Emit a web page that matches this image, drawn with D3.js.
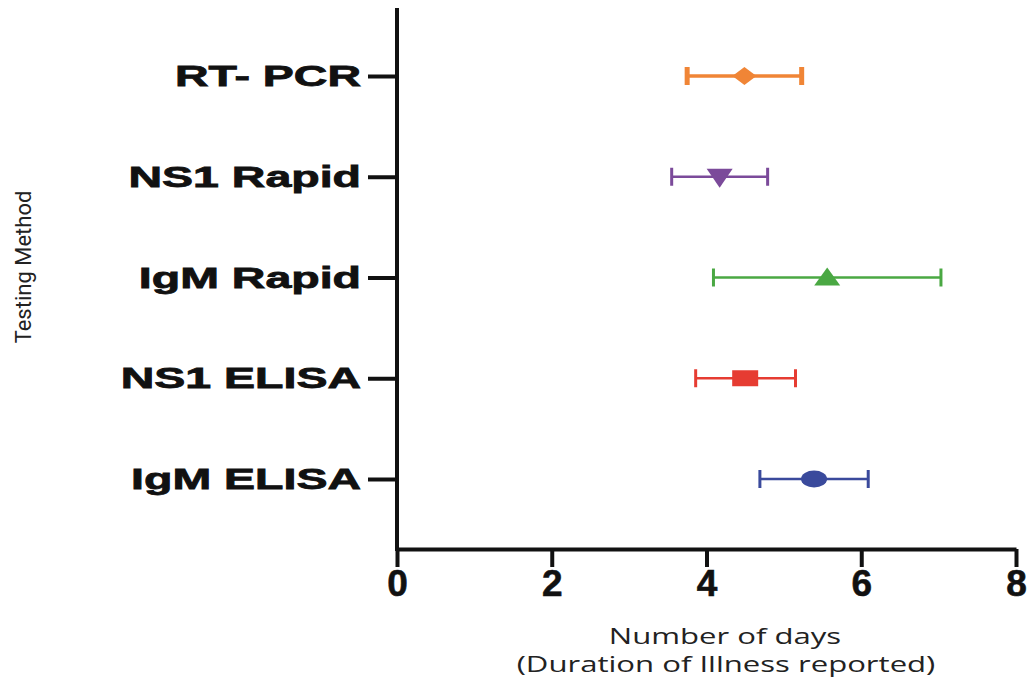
<!DOCTYPE html>
<html>
<head>
<meta charset="utf-8">
<script src="https://cdn.jsdelivr.net/npm/d3@7"></script>
<style>
  body { margin: 0; background: #fff; }
</style>
</head>
<body>
<div id="chart"></div>
<script>
// data
const methods = ['RT- PCR', 'NS1 Rapid', 'IgM Rapid', 'NS1 ELISA', 'IgM ELISA'];
const means = [4.49, 4.17, 5.56, 4.50, 5.39];
const lows = [3.75, 3.55, 4.09, 3.86, 4.69];
const highs = [5.23, 4.79, 7.03, 5.15, 6.09];
const colors = ['#f08536', '#7b4a9a', '#4aa843', '#e63c32', '#3a4a9c'];
const shapes = ['diamond', 'triDown', 'triUp', 'square', 'circle'];
const xTicks = [0, 2, 4, 6, 8];

const W = 1032, H = 681;
const svg = d3.select('#chart').append('svg')
  .attr('width', W).attr('height', H);

const x = d3.scaleLinear().domain([0, 8]).range([397, 1016]);
const y = d3.scalePoint().domain(methods).range([76, 479]);
const yBase = 549;

// stretch a text sideways, the reference is widened
function stretch(sel, k) {
  sel.each(function() {
    const len = this.getComputedTextLength();
    d3.select(this).attr('textLength', len * k).attr('lengthAdjust', 'spacingAndGlyphs');
  });
}

// axes
const xAxis = svg.append('g')
  .attr('transform', 'translate(0,' + yBase + ')')
  .call(d3.axisBottom(x).tickValues(xTicks).tickSize(18).tickPadding(3).tickSizeOuter(0));
xAxis.select('.domain').attr('stroke', '#111').attr('stroke-width', 4);
xAxis.selectAll('.tick line').attr('stroke', '#111').attr('stroke-width', 4);
xAxis.selectAll('.tick text')
  .attr('fill', '#111')
  .attr('stroke', '#111').attr('stroke-width', 0.6)
  .style('font-family', 'Liberation Sans, Arial, sans-serif')
  .style('font-weight', 'bold')
  .style('font-size', '37px');

const yAxis = svg.append('g')
  .attr('transform', 'translate(397,0)')
  .call(d3.axisLeft(y).tickSize(29).tickPadding(7).tickSizeOuter(0));
yAxis.select('.domain').attr('d', 'M0,8V' + (yBase + 2)).attr('stroke', '#111').attr('stroke-width', 4);
yAxis.selectAll('.tick line').attr('stroke', '#111').attr('stroke-width', 4);
yAxis.selectAll('.tick text')
  .attr('fill', '#111')
  .attr('stroke', '#111').attr('stroke-width', 0.8)
  .style('font-family', 'Liberation Sans, Arial, sans-serif')
  .style('font-weight', 'bold')
  .style('font-size', '30px')
  .call(stretch, 1.55);

// axis titles
svg.append('text')
  .attr('transform', 'translate(31,267) rotate(-90)')
  .attr('text-anchor', 'middle')
  .style('font-family', 'Liberation Sans Narrow, Roboto, sans-serif')
  .style('font-size', '22px')
  .attr('fill', '#222')
  .text('Testing Method')
  .call(stretch, 1.0);

svg.append('text')
  .attr('x', 725).attr('y', 644)
  .attr('text-anchor', 'middle')
  .style('font-family', 'Open Sans, sans-serif')
  .style('font-size', '21px')
  .attr('fill', '#222')
  .text('Number of days')
  .call(stretch, 1.48);
svg.append('text')
  .attr('x', 726).attr('y', 672)
  .attr('text-anchor', 'middle')
  .style('font-family', 'Open Sans, sans-serif')
  .style('font-size', '21px')
  .attr('fill', '#222')
  .text('(Duration of Illness reported)')
  .call(stretch, 1.48);

// error bars
const rows = methods.map((m, i) => ({ m, mean: means[i], lo: lows[i], hi: highs[i], c: colors[i], s: shapes[i] }));

const g = svg.append('g').selectAll('g').data(rows).enter().append('g');
g.append('line')
  .attr('x1', d => x(d.lo)).attr('x2', d => x(d.hi))
  .attr('y1', d => y(d.m)).attr('y2', d => y(d.m))
  .attr('stroke', d => d.c).attr('stroke-width', (d, i) => i === 0 ? 3.5 : 2.5);
g.selectAll('.cap').data(d => [d.lo, d.hi].map(v => ({ v, d }))).enter().append('line')
  .attr('x1', e => x(e.v)).attr('x2', e => x(e.v))
  .attr('y1', e => y(e.d.m) - 9).attr('y2', e => y(e.d.m) + 9)
  .attr('stroke', e => e.d.c).attr('stroke-width', (e) => e.d.s === 'diamond' ? 5 : 3);

// markers
function shapePath(s) {
  if (s === 'diamond') return 'M-12,0L0,-9L12,0L0,9Z';
  if (s === 'triDown') return 'M-13,-8L13,-8L0,11Z';
  if (s === 'triUp') return 'M-13,8L13,8L0,-10Z';
  if (s === 'square') return 'M-13,-8H13V8H-13Z';
  return 'M-13,0A13,8.5 0 1,0 13,0A13,8.5 0 1,0 -13,0Z';
}
g.append('path')
  .attr('transform', d => 'translate(' + x(d.mean) + ',' + y(d.m) + ')')
  .attr('d', d => shapePath(d.s))
  .attr('fill', d => d.c);
</script>
</body>
</html>
